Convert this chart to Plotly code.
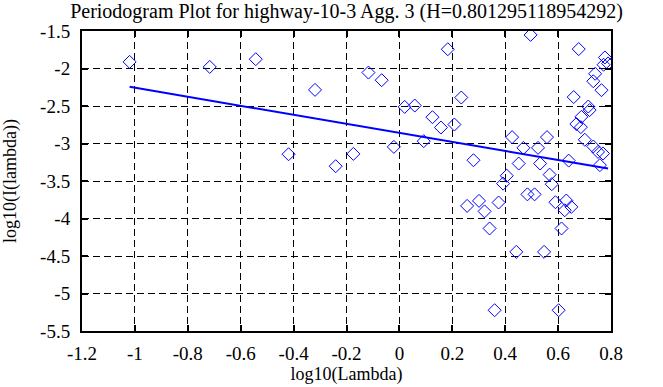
import plotly.graph_objects as go

H = 0.801295118954292
title_text = "Periodogram Plot for highway-10-3 Agg. 3 (H=0.801295118954292)"

log_lambda = [
    -1.020, -0.717, -0.543, -0.419, -0.319, -0.241, -0.174, -0.117, -0.067, -0.021,
    0.020, 0.058, 0.092, 0.125, 0.157, 0.183, 0.208, 0.234, 0.256, 0.280,
    0.301, 0.322, 0.341, 0.360, 0.375, 0.392, 0.406, 0.426, 0.442, 0.451,
    0.469, 0.484, 0.496, 0.511, 0.524, 0.532, 0.547, 0.558, 0.568, 0.576,
    0.590, 0.602, 0.613, 0.625, 0.631, 0.640, 0.650, 0.659, 0.669, 0.678,
    0.686, 0.688, 0.701, 0.714, 0.719, 0.733, 0.733, 0.740, 0.751, 0.758,
    0.764, 0.770, 0.777, 0.789, 0.772,
]
log_I = [
    -1.912, -1.979, -1.876, -3.143, -2.285, -3.303, -3.139, -2.054, -2.156, -3.045,
    -2.512, -2.494, -2.969, -2.649, -2.787, -1.743, -2.747, -2.387, -3.832, -3.223,
    -3.765, -3.905, -4.133, -5.223, -3.787, -3.535, -3.430, -2.915, -4.445, -3.267,
    -3.058, -3.678, -1.552, -3.678, -3.058, -3.267, -4.445, -2.915, -3.415, -3.543,
    -3.783, -5.223, -4.133, -3.890, -3.760, -3.228, -3.845, -2.381, -2.740, -1.741,
    -2.782, -2.645, -2.950, -2.507, -2.555, -3.040, -2.170, -2.070, -3.112, -3.289,
    -2.289, -3.134, -1.853, -1.933, -1.950,
]

# regression line: slope from H, intercept
fit_slope = 1 - 2 * H
fit_intercept = -2.859
fit_x = [min(log_lambda), max(log_lambda)]
fit_y = [fit_intercept + fit_slope * v for v in fit_x]

x_ticks = [-1.2, -1.0, -0.8, -0.6, -0.4, -0.2, 0.0, 0.2, 0.4, 0.6, 0.8]
x_tick_labels = ["-1.2", "-1", "-0.8", "-0.6", "-0.4", "-0.2", "0", "0.2", "0.4", "0.6", "0.8"]
y_ticks = [-1.5, -2.0, -2.5, -3.0, -3.5, -4.0, -4.5, -5.0, -5.5]
y_tick_labels = ["-1.5", "-2", "-2.5", "-3", "-3.5", "-4", "-4.5", "-5", "-5.5"]

BLUE = "#0000ff"
FONT = "Liberation Serif"

fig = go.Figure()
fig.add_trace(go.Scatter(
    x=log_lambda, y=log_I, mode="markers",
    marker=dict(symbol="diamond-open", size=10, color=BLUE, line=dict(width=1, color=BLUE)),
    showlegend=False, hoverinfo="skip",
))
fig.add_trace(go.Scatter(
    x=fit_x, y=fit_y, mode="lines",
    line=dict(color=BLUE, width=2),
    showlegend=False, hoverinfo="skip",
))

axis_common = dict(
    showline=True, linecolor="black", linewidth=2, mirror="allticks",
    ticks="inside", ticklen=6, tickwidth=2, tickcolor="black",
    showgrid=True, gridcolor="black", gridwidth=1, griddash="7px,4px",
    zeroline=False, automargin=False,
    tickfont=dict(family=FONT, size=19, color="black"),
)

fig.update_layout(
    width=663, height=387,
    margin=dict(l=82, r=52, t=31, b=56),
    paper_bgcolor="white", plot_bgcolor="white",
    font=dict(family=FONT, color="black", size=18),
    title=dict(text=title_text, x=0.5, xref="paper", xanchor="center",
               y=0.99, yref="container", yanchor="top",
               font=dict(family=FONT, size=20, color="black")),
    xaxis=dict(range=[-1.2, 0.8], tickvals=x_ticks, ticktext=x_tick_labels,
               ticklabelstandoff=4,
               title=dict(text="log10(Lambda)", standoff=5,
                          font=dict(family=FONT, size=18, color="black")),
               **axis_common),
    yaxis=dict(range=[-5.5, -1.5], tickvals=y_ticks, ticktext=y_tick_labels,
               ticklabelstandoff=6,
               title=dict(text="log10(I(lambda))", standoff=20,
                          font=dict(family=FONT, size=18, color="black")),
               **axis_common),
)

fig.write_html(
    "out.html",
    config={"displayModeBar": False},
    post_script="document.body.style.margin='0';document.body.style.overflow='hidden';",
)
